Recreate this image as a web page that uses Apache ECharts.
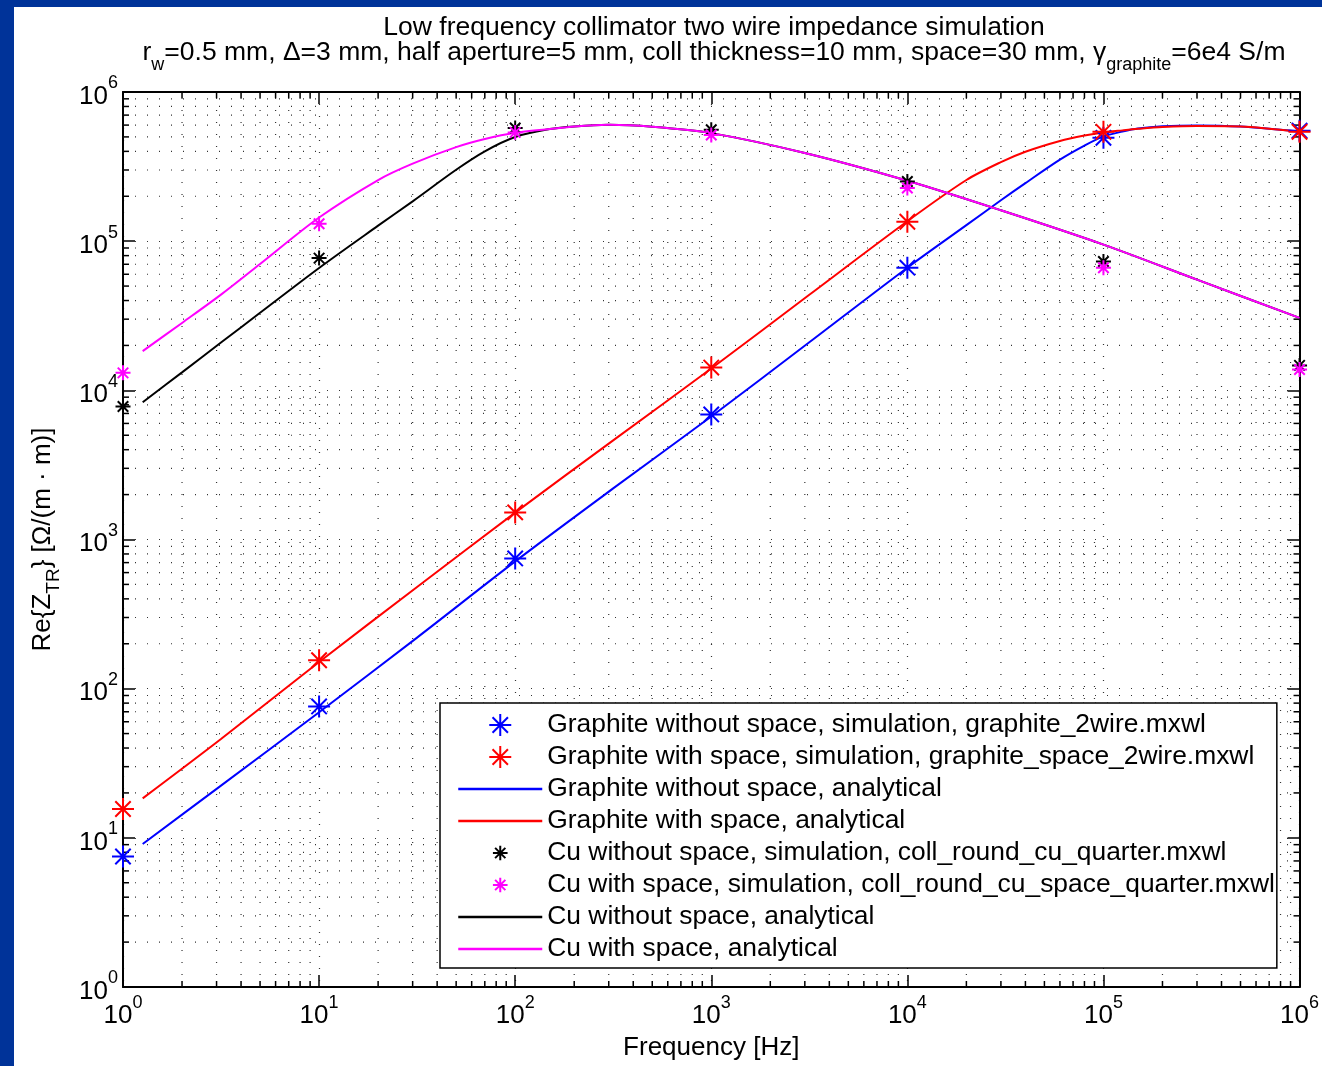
<!DOCTYPE html>
<html>
<head>
<meta charset="utf-8">
<script src="https://cdn.jsdelivr.net/npm/echarts@6/dist/echarts.min.js"></script>
<style>
  html, body { margin: 0; padding: 0; background: #003399; width: 1322px; height: 1066px; overflow: hidden; }
  #chart { position: absolute; left: 14px; top: 7px; width: 1308px; height: 1059px; background: #fff; }
</style>
</head>
<body>
<div id="chart"></div>
<script>
// simulation points
const freqSim = [1, 10, 100, 1e3, 1e4, 1e5, 1e6]
const graphiteSim = [7.5, 76, 747, 6890, 66400, 493000, 550000]
const graphiteSpaceSim = [15.6, 155, 1520, 14200, 135000, 541000, 541000]
const cuSim = [7800, 77000, 573000, 558000, 251000, 73000, 14700]
const cuSpaceSim = [13100, 131000, 536000, 515000, 227000, 66400, 13800]

// analytical curves
const freqGraphite = [1.26, 3.16, 10, 31.6, 100, 316, 1000, 3162, 1e4, 2e4, 3e4, 4e4, 6e4, 8e4, 1e5, 1.25e5, 1.5e5, 2e5, 3e5, 5e5, 1e6]
const graphiteAna = [9.1, 22.4, 69.5, 220, 713, 2200, 6680, 21000, 66400, 128000, 188000, 245000, 352000, 437000, 504000, 543000, 569000, 589000, 597000, 586000, 543000]
const graphiteSpaceAna = [18.4, 46, 151, 480, 1515, 4620, 14000, 43700, 136000, 257000, 339000, 398000, 470000, 511000, 536000, 553000, 566000, 582000, 592000, 588000, 541000]

const freqCu = [1.26, 2, 3.16, 5, 10, 20, 30, 50, 70, 100, 150, 200, 300, 500, 1000, 3000, 1e4, 3e4, 1e5, 3e5, 1e6]
const cuAna = [8320, 13200, 20900, 33100, 66100, 127000, 185000, 301000, 400000, 499000, 564000, 588000, 603000, 585000, 530000, 390000, 254000, 161000, 94800, 55200, 30600]
const cuSpaceAna = [18300, 28300, 43800, 70300, 144000, 257000, 331000, 427000, 484000, 533000, 565000, 588000, 603000, 585000, 530000, 390000, 254000, 161000, 94800, 55200, 30600]

// axes
const xMin = 1, xMax = 1e6
const yMin = 1, yMax = 1e6
const minorMult = [2, 3, 4, 5, 6, 7, 8, 9]
const decades = [1, 10, 100, 1e3, 1e4, 1e5]

const FONT = 'Liberation Sans, Arial, Helvetica, sans-serif'
const STAR = 'path://M10,0L10,20M0,10L20,10M3,3L17,17M3,17L17,3'
const STAR_SMALL = 'path://M-5,-5M25,25M10,0L10,20M0,10L20,10M3,3L17,17M3,17L17,3'
const gridDot = { color: '#333', width: 1.2, type: [1, 11] }

const zip = (xs, ys) => xs.map((x, i) => [x, ys[i]])

// minor grid items: [x, y, kind] kind 0 = vertical line, 1 = horizontal
const minorData = []
decades.forEach(d => {
  minorMult.forEach(m => {
    minorData.push([d * m, yMin, 0])
    minorData.push([xMin, d * m, 1])
  })
})

const chart = echarts.init(document.getElementById('chart'))

// 10 with exponent as superscript
const powLabel = (v) => '{b|10}{s|' + Math.round(Math.log10(v)) + '}'
const labelRich = {
  b: { fontSize: 26, fontFamily: FONT, color: '#000', lineHeight: 35, verticalAlign: 'bottom' },
  s: { fontSize: 18, fontFamily: FONT, color: '#000', lineHeight: 35, verticalAlign: 'top' }
}

const starSeries = (name, data, color, size) => ({
  name,
  type: 'scatter',
  data,
  symbol: STAR,
  symbolSize: size,
  itemStyle: { color, borderColor: color, borderWidth: 2, opacity: 1 },
  z: 3
})

const lineSeries = (name, data, color) => ({
  name,
  type: 'line',
  data,
  symbol: 'none',
  smooth: 0.3,
  lineStyle: { color, width: 2 },
  itemStyle: { color },
  z: 3
})

const hideSymbol = { opacity: 0 }

const option = {
  animation: false,
  backgroundColor: '#fff',
  textStyle: { fontFamily: FONT },
  title: {
    left: 700,
    top: 8,
    padding: 0,
    textAlign: 'center',
    itemGap: -10,
    text: 'Low frequency collimator two wire impedance simulation',
    textStyle: { fontSize: 26.5, fontWeight: 'normal', color: '#000', fontFamily: FONT, lineHeight: 26 },
    subtext: '{n|r}{sub|w}{n|=0.5 mm, Δ=3 mm, half aperture=5 mm, coll thickness=10 mm, space=30 mm, γ}{sub|graphite}{n|=6e4 S/m}',
    subtextStyle: {
      color: '#000',
      rich: {
        n: { fontSize: 26.5, color: '#000', fontFamily: FONT, lineHeight: 26 },
        sub: { fontSize: 18, color: '#000', fontFamily: FONT, lineHeight: 42, verticalAlign: 'bottom' }
      }
    }
  },
  grid: { left: 109, top: 85, right: 22, bottom: 78 },
  legend: {
    orient: 'vertical',
    left: 426,
    top: 696,
    padding: [9, 2, 6, 17],
    itemWidth: 84,
    itemHeight: 22,
    itemGap: 6,
    backgroundColor: '#fff',
    borderColor: '#000',
    borderWidth: 1.5,
    lineStyle: { width: 2.5 },
    textStyle: { fontSize: 26.4, color: '#000', fontFamily: FONT },
    data: [
      { name: 'Graphite without space, simulation, graphite_2wire.mxwl', icon: STAR },
      { name: 'Graphite with space, simulation, graphite_space_2wire.mxwl', icon: STAR },
      { name: 'Graphite without space, analytical', itemStyle: hideSymbol },
      { name: 'Graphite with space, analytical', itemStyle: hideSymbol },
      { name: 'Cu without space, simulation, coll_round_cu_quarter.mxwl', icon: STAR_SMALL },
      { name: 'Cu with space, simulation, coll_round_cu_space_quarter.mxwl', icon: STAR_SMALL },
      { name: 'Cu without space, analytical', itemStyle: hideSymbol },
      { name: 'Cu with space, analytical', itemStyle: hideSymbol }
    ]
  },
  xAxis: [
    {
      type: 'log', logBase: 10, min: xMin, max: xMax,
      name: 'Frequency [Hz]', nameLocation: 'middle', nameGap: 48,
      nameTextStyle: { fontSize: 26, color: '#000', fontFamily: FONT },
      axisLine: { lineStyle: { color: '#000', width: 2 } },
      axisTick: { inside: true, length: 12, lineStyle: { color: '#000', width: 1.5 } },
      axisLabel: { formatter: powLabel, rich: labelRich, margin: 7 },
      splitLine: { show: true, lineStyle: gridDot }
    },
    {
      type: 'log', logBase: 10, min: xMin, max: xMax, position: 'top',
      axisLine: { lineStyle: { color: '#000', width: 2 } },
      axisTick: { inside: true, length: 12, lineStyle: { color: '#000', width: 1.5 } },
      axisLabel: { show: false },
      splitLine: { show: false }
    }
  ],
  yAxis: [
    {
      type: 'log', logBase: 10, min: yMin, max: yMax,
      name: 'Re{Z{sub|TR}} [Ω/(m · m)]', nameLocation: 'middle', nameGap: 60,
      nameTextStyle: {
        fontSize: 26, color: '#000', fontFamily: FONT,
        rich: { sub: { fontSize: 19, color: '#000', fontFamily: FONT, verticalAlign: 'bottom', lineHeight: 40 } }
      },
      axisLine: { lineStyle: { color: '#000', width: 2 } },
      axisTick: { inside: true, length: 12, lineStyle: { color: '#000', width: 1.5 } },
      axisLabel: { formatter: powLabel, rich: labelRich, margin: 5 },
      splitLine: { show: true, lineStyle: gridDot }
    },
    {
      type: 'log', logBase: 10, min: yMin, max: yMax, position: 'right',
      axisLine: { lineStyle: { color: '#000', width: 2 } },
      axisTick: { inside: true, length: 12, lineStyle: { color: '#000', width: 1.5 } },
      axisLabel: { show: false },
      splitLine: { show: false }
    }
  ],
  series: [
    {
      // minor grid lines and minor ticks at 2..9 x 10^k
      type: 'custom',
      silent: true,
      clip: false,
      z: 1,
      data: minorData,
      encode: { x: 0, y: 1 },
      renderItem: (params, api) => {
        const kind = api.value(2)
        const dot = { stroke: '#333', lineWidth: 1.2, lineDash: [1, 11] }
        const tick = { stroke: '#000', lineWidth: 1.5 }
        if (kind === 0) {
          const v = api.value(0)
          const a = api.coord([v, yMin])
          const b = api.coord([v, yMax])
          return {
            type: 'group',
            children: [
              { type: 'line', shape: { x1: a[0], y1: a[1], x2: b[0], y2: b[1] }, style: dot },
              { type: 'line', shape: { x1: a[0], y1: a[1], x2: a[0], y2: a[1] - 6 }, style: tick },
              { type: 'line', shape: { x1: b[0], y1: b[1], x2: b[0], y2: b[1] + 6 }, style: tick }
            ]
          }
        }
        const v = api.value(1)
        const a = api.coord([xMin, v])
        const b = api.coord([xMax, v])
        return {
          type: 'group',
          children: [
            { type: 'line', shape: { x1: a[0], y1: a[1], x2: b[0], y2: b[1] }, style: dot },
            { type: 'line', shape: { x1: a[0], y1: a[1], x2: a[0] + 6, y2: a[1] }, style: tick },
            { type: 'line', shape: { x1: b[0], y1: b[1], x2: b[0] - 6, y2: b[1] }, style: tick }
          ]
        }
      }
    },
    starSeries('Graphite without space, simulation, graphite_2wire.mxwl', zip(freqSim, graphiteSim), '#0000ff', 22),
    starSeries('Graphite with space, simulation, graphite_space_2wire.mxwl', zip(freqSim, graphiteSpaceSim), '#ff0000', 22),
    lineSeries('Graphite without space, analytical', zip(freqGraphite, graphiteAna), '#0000ff'),
    lineSeries('Graphite with space, analytical', zip(freqGraphite, graphiteSpaceAna), '#ff0000'),
    starSeries('Cu without space, simulation, coll_round_cu_quarter.mxwl', zip(freqSim, cuSim), '#000000', 15),
    starSeries('Cu with space, simulation, coll_round_cu_space_quarter.mxwl', zip(freqSim, cuSpaceSim), '#ff00ff', 15),
    lineSeries('Cu without space, analytical', zip(freqCu, cuAna), '#000000'),
    lineSeries('Cu with space, analytical', zip(freqCu, cuSpaceAna), '#ff00ff')
  ]
}

chart.setOption(option)
</script>
</body>
</html>
